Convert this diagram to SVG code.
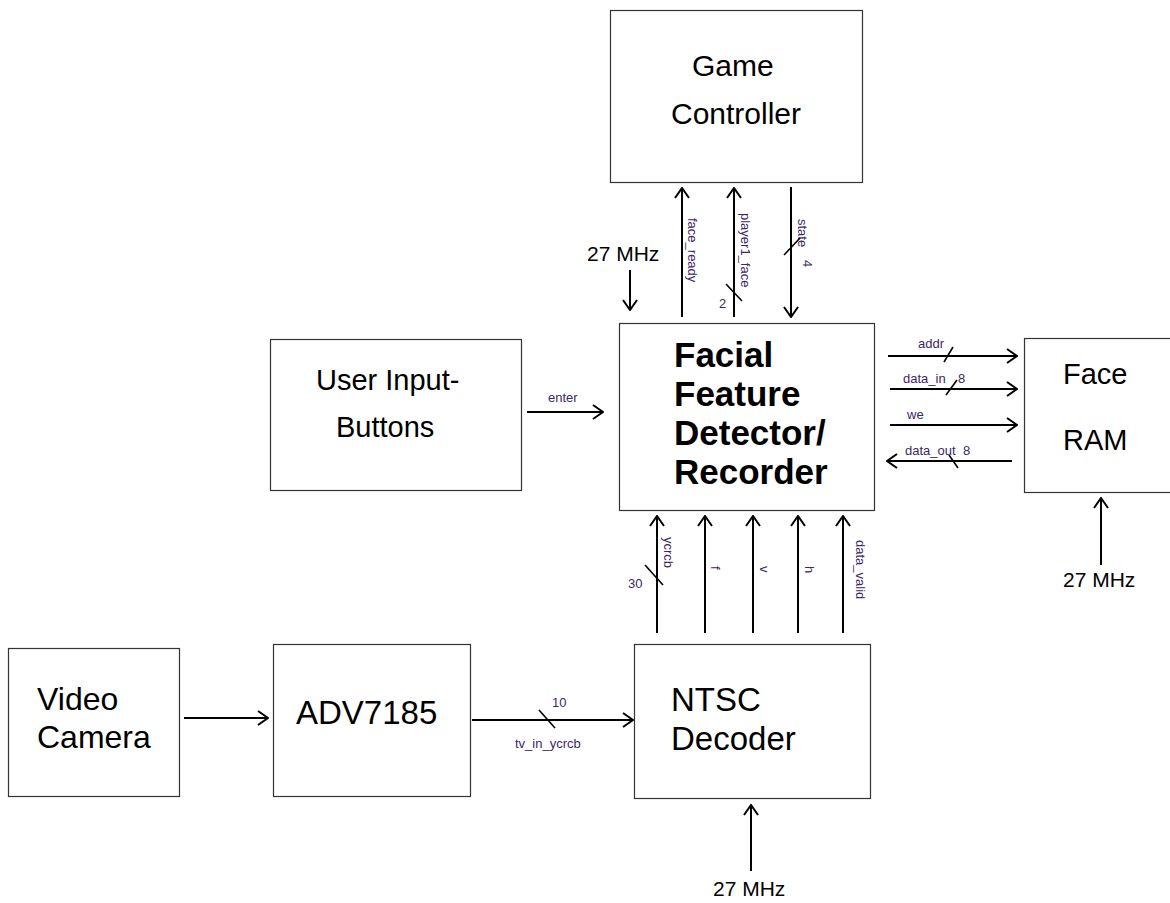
<svg xmlns="http://www.w3.org/2000/svg" width="1170" height="903" viewBox="0 0 1170 903">
<style>
.box{fill:#fff;stroke:#333;stroke-width:1.2}
.big{font-family:"Liberation Sans",Arial,sans-serif;font-size:29px;fill:#000}
.bold{font-family:"Liberation Sans",Arial,sans-serif;font-size:35px;font-weight:bold;fill:#000}
.lbl{font-family:"Liberation Sans",Arial,sans-serif;font-size:13px;fill:#3c2865}
.mhz{font-family:"Liberation Sans",Arial,sans-serif;font-size:21px;fill:#000}
.w{stroke:#000;stroke-width:2;fill:none}
.s{stroke:#000;stroke-width:1.6;fill:none}
</style>
<defs>
<marker id="ah" viewBox="0 0 12 16" refX="11" refY="8" markerWidth="12" markerHeight="16" markerUnits="userSpaceOnUse" orient="auto">
<path d="M1,1 L11,8 L1,15" fill="none" stroke="#000" stroke-width="2"/>
</marker>
</defs>
<rect width="1170" height="903" fill="#fff"/>
<g id="game-controller"><rect class="box" x="610.5" y="10.5" width="252" height="172"/><text class="big" style="font-size:30px" x="692" y="76">Game</text><text class="big" style="font-size:30px" x="671" y="124">Controller</text></g>
<g id="user-input"><rect class="box" x="270.5" y="339.5" width="251" height="151"/><text class="big" x="316" y="390">User Input-</text><text class="big" x="336" y="437">Buttons</text></g>
<g id="ffd"><rect class="box" x="619.5" y="323.5" width="255" height="187"/><text class="bold" x="674" y="367">Facial</text><text class="bold" x="674" y="406">Feature</text><text class="bold" x="674" y="445">Detector/</text><text class="bold" x="674" y="484">Recorder</text></g>
<g id="face-ram"><rect class="box" x="1024.5" y="338.5" width="150" height="154"/><text class="big" x="1063" y="384">Face</text><text class="big" x="1063" y="450">RAM</text></g>
<g id="video-camera"><rect class="box" x="8.5" y="648.5" width="171" height="148"/><text class="big" style="font-size:32px" x="37" y="710">Video</text><text class="big" style="font-size:32px" x="37" y="748">Camera</text></g>
<g id="adv7185"><rect class="box" x="273.5" y="644.5" width="197" height="152"/><text class="big" style="font-size:33px" x="296" y="724">ADV7185</text></g>
<g id="ntsc"><rect class="box" x="634.5" y="644.5" width="236" height="154"/><text class="big" style="font-size:33px" x="671" y="711">NTSC</text><text class="big" style="font-size:33px" x="671" y="750">Decoder</text></g>
<g id="connectors">
<line class="w" x1="682" y1="317" x2="682" y2="188" marker-end="url(#ah)"/>
<text class="lbl" transform="translate(688,218) rotate(90)">face_ready</text>
<line class="w" x1="734" y1="317" x2="734" y2="188" marker-end="url(#ah)"/>
<text class="lbl" transform="translate(741,213) rotate(90)">player1_face</text>
<line class="s" x1="726" y1="284" x2="742" y2="301"/>
<text class="lbl" x="719" y="308">2</text>
<line class="w" x1="791" y1="187" x2="791" y2="317" marker-end="url(#ah)"/>
<text class="lbl" transform="translate(798,219) rotate(90)">state</text>
<text class="lbl" transform="translate(803,260) rotate(90)">4</text>
<line class="s" x1="784" y1="255" x2="800" y2="238"/>
<text class="mhz" x="587" y="261">27 MHz</text>
<line class="w" x1="630" y1="270" x2="630" y2="310" marker-end="url(#ah)"/>
<line class="w" x1="527" y1="412" x2="603" y2="412" marker-end="url(#ah)"/>
<text class="lbl" x="548" y="402">enter</text>
<line class="w" x1="888" y1="356" x2="1017" y2="356" marker-end="url(#ah)"/>
<text class="lbl" x="918" y="348">addr</text>
<line class="s" x1="944" y1="362" x2="953" y2="347"/>
<line class="w" x1="890" y1="389" x2="1017" y2="389" marker-end="url(#ah)"/>
<text class="lbl" x="903" y="383">data_in</text>
<text class="lbl" x="958" y="383">8</text>
<line class="s" x1="946" y1="395" x2="957" y2="380"/>
<line class="w" x1="890" y1="425" x2="1017" y2="425" marker-end="url(#ah)"/>
<text class="lbl" x="907" y="419">we</text>
<line class="w" x1="1012" y1="461" x2="887" y2="461" marker-end="url(#ah)"/>
<text class="lbl" x="905" y="455">data_out</text>
<text class="lbl" x="963" y="455">8</text>
<line class="s" x1="949" y1="455" x2="958" y2="468"/>
<line class="w" x1="1101" y1="565" x2="1101" y2="498" marker-end="url(#ah)"/>
<text class="mhz" x="1063" y="587">27 MHz</text>
<line class="w" x1="657" y1="633" x2="657" y2="516" marker-end="url(#ah)"/>
<line class="w" x1="705" y1="633" x2="705" y2="516" marker-end="url(#ah)"/>
<line class="w" x1="753" y1="633" x2="753" y2="516" marker-end="url(#ah)"/>
<line class="w" x1="798" y1="633" x2="798" y2="516" marker-end="url(#ah)"/>
<line class="w" x1="843" y1="633" x2="843" y2="516" marker-end="url(#ah)"/>
<line class="s" x1="645" y1="565" x2="663" y2="585"/>
<text class="lbl" x="628" y="588">30</text>
<text class="lbl" transform="translate(664,537) rotate(90)">ycrcb</text>
<text class="lbl" transform="translate(711,566) rotate(90)">f</text>
<text class="lbl" transform="translate(760,566) rotate(90)">v</text>
<text class="lbl" transform="translate(805,566) rotate(90)">h</text>
<text class="lbl" transform="translate(856,540) rotate(90)">data_valid</text>
<line class="w" x1="184" y1="718" x2="268" y2="718" marker-end="url(#ah)"/>
<line class="w" x1="472" y1="720" x2="633" y2="720" marker-end="url(#ah)"/>
<line class="s" x1="539" y1="710" x2="555" y2="728"/>
<text class="lbl" x="552" y="707">10</text>
<text class="lbl" x="515" y="748">tv_in_ycrcb</text>
<line class="w" x1="751" y1="871" x2="751" y2="805" marker-end="url(#ah)"/>
<text class="mhz" x="713" y="896">27 MHz</text>
</g>
</svg>
